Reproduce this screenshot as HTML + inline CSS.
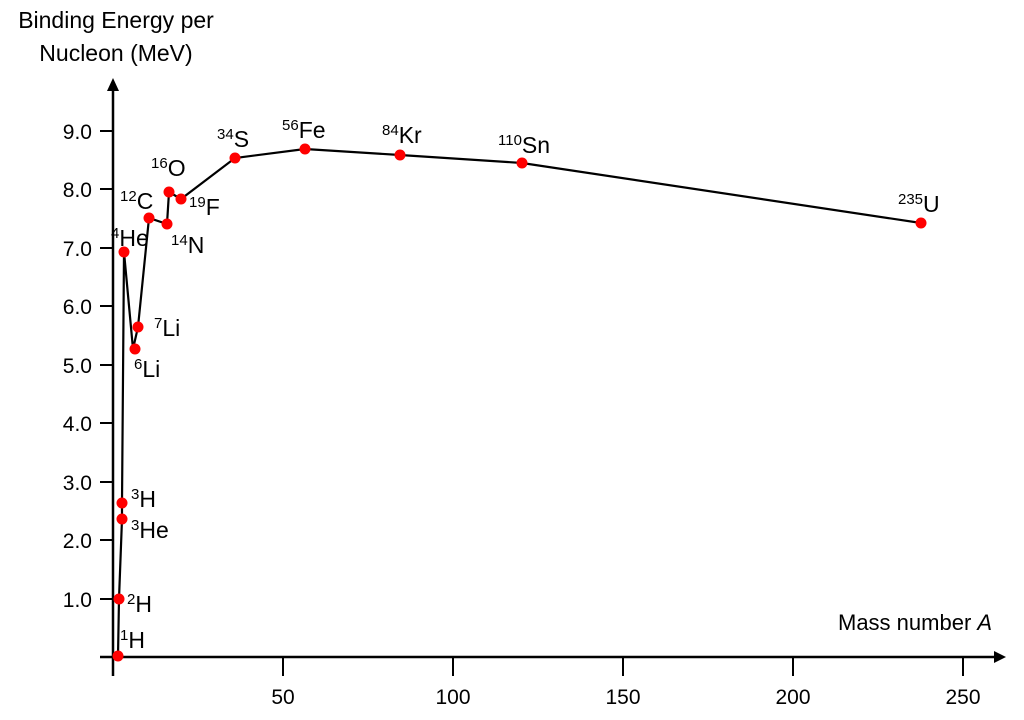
<!DOCTYPE html>
<html><head><meta charset="utf-8"><style>
html,body{margin:0;padding:0;background:#fff}
svg text{font-family:"Liberation Sans",sans-serif;fill:#000}
</style></head><body>
<svg width="1024" height="715" xmlns="http://www.w3.org/2000/svg">
<g stroke="#000" stroke-width="2.5" fill="none">
<line x1="100" y1="657" x2="996" y2="657"/>
<line x1="113" y1="676" x2="113" y2="88"/>
</g>
<polygon points="1006,657 994,651 994,663" fill="#000"/>
<polygon points="113,78 107,91 119,91" fill="#000"/>
<g stroke="#000" stroke-width="2">
<line x1="100" y1="599" x2="113" y2="599"/>
<line x1="100" y1="540" x2="113" y2="540"/>
<line x1="100" y1="482" x2="113" y2="482"/>
<line x1="100" y1="423" x2="113" y2="423"/>
<line x1="100" y1="365" x2="113" y2="365"/>
<line x1="100" y1="306" x2="113" y2="306"/>
<line x1="100" y1="248" x2="113" y2="248"/>
<line x1="100" y1="189" x2="113" y2="189"/>
<line x1="100" y1="131" x2="113" y2="131"/>
<line x1="283" y1="657" x2="283" y2="676"/>
<line x1="453" y1="657" x2="453" y2="676"/>
<line x1="623" y1="657" x2="623" y2="676"/>
<line x1="793" y1="657" x2="793" y2="676"/>
<line x1="963" y1="657" x2="963" y2="676"/>
</g>
<g font-size="21" text-anchor="end">
<text x="92" y="607">1.0</text><text x="92" y="548">2.0</text><text x="92" y="490">3.0</text>
<text x="92" y="431">4.0</text><text x="92" y="373">5.0</text><text x="92" y="314">6.0</text>
<text x="92" y="256">7.0</text><text x="92" y="197">8.0</text><text x="92" y="139">9.0</text>
</g>
<g font-size="21" text-anchor="middle">
<text x="283" y="704">50</text><text x="453" y="704">100</text><text x="623" y="704">150</text>
<text x="793" y="704">200</text><text x="963" y="704">250</text>
</g>
<g font-size="23" text-anchor="middle">
<text x="116" y="28">Binding Energy per</text>
<text x="116" y="61">Nucleon (MeV)</text>
</g>
<text x="838" y="630" font-size="22">Mass number <tspan font-style="italic">A</tspan></text>
<polyline fill="none" stroke="#000" stroke-width="2.2" points="118,656 119,599 122,519 122,503 124,252 133,349 138,327 149,218 167,224 169,192 181,199 235,158 305,149 400,155 522,163 921,223"/>
<g fill="#f00">
<circle cx="118" cy="656" r="5.5"/><circle cx="119" cy="599" r="5.5"/><circle cx="122" cy="519" r="5.5"/>
<circle cx="122" cy="503" r="5.5"/><circle cx="124" cy="252" r="5.5"/><circle cx="135" cy="349" r="5.5"/>
<circle cx="138" cy="327" r="5.5"/><circle cx="149" cy="218" r="5.5"/><circle cx="167" cy="224" r="5.5"/>
<circle cx="169" cy="192" r="5.5"/><circle cx="181" cy="199" r="5.5"/><circle cx="235" cy="158" r="5.5"/>
<circle cx="305" cy="149" r="5.5"/><circle cx="400" cy="155" r="5.5"/><circle cx="522" cy="163" r="5.5"/>
<circle cx="921" cy="223" r="5.5"/>
</g>
<g font-size="23">
<text x="120" y="648"><tspan font-size="15" dy="-8">1</tspan><tspan dy="8">H</tspan></text>
<text x="127" y="612"><tspan font-size="15" dy="-8">2</tspan><tspan dy="8">H</tspan></text>
<text x="131" y="507"><tspan font-size="15" dy="-8">3</tspan><tspan dy="8">H</tspan></text>
<text x="131" y="538"><tspan font-size="15" dy="-8">3</tspan><tspan dy="8">He</tspan></text>
<text x="111" y="246"><tspan font-size="15" dy="-8">4</tspan><tspan dy="8">He</tspan></text>
<text x="134" y="377"><tspan font-size="15" dy="-8">6</tspan><tspan dy="8">Li</tspan></text>
<text x="154" y="336"><tspan font-size="15" dy="-8">7</tspan><tspan dy="8">Li</tspan></text>
<text x="120" y="209"><tspan font-size="15" dy="-8">12</tspan><tspan dy="8">C</tspan></text>
<text x="171" y="253"><tspan font-size="15" dy="-8">14</tspan><tspan dy="8">N</tspan></text>
<text x="151" y="176"><tspan font-size="15" dy="-8">16</tspan><tspan dy="8">O</tspan></text>
<text x="189" y="215"><tspan font-size="15" dy="-8">19</tspan><tspan dy="8">F</tspan></text>
<text x="217" y="147"><tspan font-size="15" dy="-8">34</tspan><tspan dy="8">S</tspan></text>
<text x="282" y="138"><tspan font-size="15" dy="-8">56</tspan><tspan dy="8">Fe</tspan></text>
<text x="382" y="143"><tspan font-size="15" dy="-8">84</tspan><tspan dy="8">Kr</tspan></text>
<text x="498" y="153"><tspan font-size="15" dy="-8">110</tspan><tspan dy="8">Sn</tspan></text>
<text x="898" y="212"><tspan font-size="15" dy="-8">235</tspan><tspan dy="8">U</tspan></text>
</g>
</svg>
</body></html>
